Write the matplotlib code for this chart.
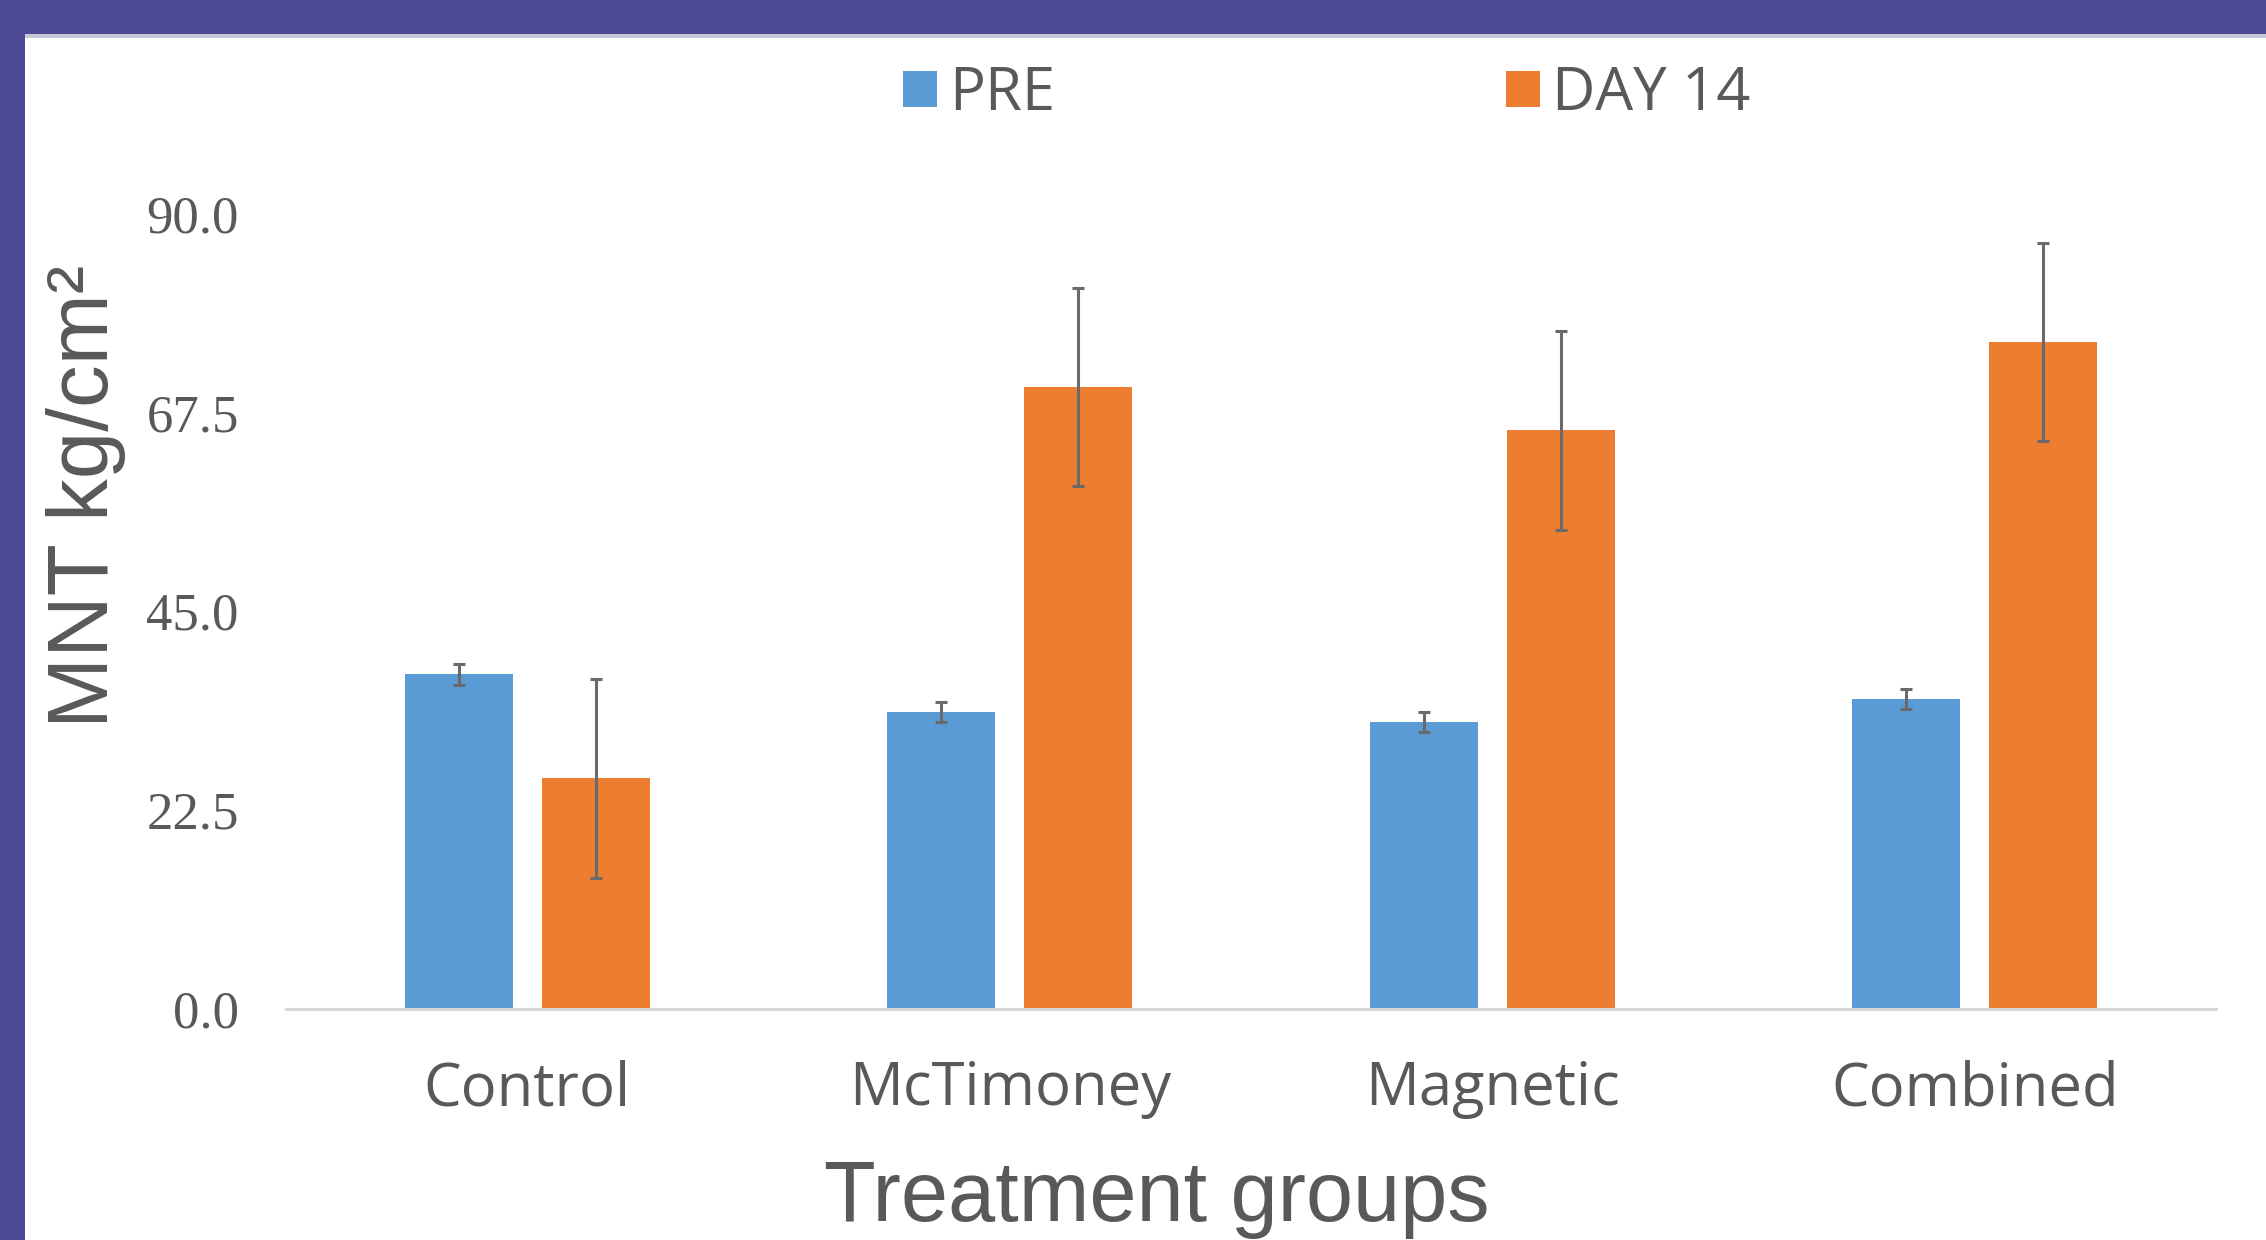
import numpy as np
import matplotlib
matplotlib.use('Agg')
import matplotlib.pyplot as plt
from matplotlib.patches import Rectangle, Patch

# data
groups = ['Control', 'McTimoney', 'Magnetic', 'Combined']
series = ['PRE', 'DAY 14']
pre = [37.9, 33.6, 32.5, 35.1]
pre_err = [1.2, 1.15, 1.15, 1.15]
day14 = [26.1, 70.4, 65.5, 75.5]
day14_err = [11.3, 11.2, 11.3, 11.25]
yticks = [0.0, 22.5, 45.0, 67.5, 90.0]

BLUE = '#5B9BD5'
ORANGE = '#ED7D31'
TEXT = '#595959'
FRAME = '#4E4A94'

W, H = 2266, 1240
fig = plt.figure(figsize=(W / 100, H / 100), dpi=100)
fig.patch.set_facecolor('white')

# purple frame (top and left bands)
fig.patches.append(Rectangle((0, 1 - 34 / H), 1, 34 / H, transform=fig.transFigure,
                             facecolor=FRAME, edgecolor='none', zorder=0))
fig.patches.append(Rectangle((0, 1 - 38 / H), 1, 4 / H, transform=fig.transFigure,
                             facecolor='#C9C8D8', edgecolor='none', zorder=0))
fig.patches.append(Rectangle((0, 0), 25 / W, 1, transform=fig.transFigure,
                             facecolor=FRAME, edgecolor='none', zorder=1))

ax = fig.add_axes([286 / W, 1 - 1009 / H, (2216 - 286) / W, (1009 - 214) / H])

x = np.arange(len(groups))
off = 0.142
bw = 0.224
err_kw = dict(ecolor='#6A6A6A', elinewidth=2.2, capsize=4, capthick=2.2)
ax.bar(x - off, pre, bw, color=BLUE, yerr=pre_err, error_kw=err_kw, label=series[0], zorder=2)
ax.bar(x + off, day14, bw, color=ORANGE, yerr=day14_err, error_kw=err_kw, label=series[1], zorder=2)

ax.set_xlim(-0.5, len(groups) - 0.5)
ax.set_ylim(0, 90)
ax.set_yticks(yticks)
ax.set_yticklabels(['%.1f' % v for v in yticks], fontfamily='Liberation Serif',
                   fontsize=38, color=TEXT)
ax.set_xticks(x)
ax.set_xticklabels(groups, fontfamily='Open Sans', fontsize=43, color=TEXT)
ax.tick_params(axis='y', length=0, pad=34)
ax.tick_params(axis='x', length=0, pad=36)

for s in ['top', 'right', 'left']:
    ax.spines[s].set_visible(False)
ax.spines['bottom'].set_color('#D9D9D9')
ax.spines['bottom'].set_linewidth(2.2)

# axis titles
fig.text(86 / W, 1 - 496 / H, 'MNT kg/cm²', rotation=90, ha='center', va='center',
         fontfamily='Liberation Sans', fontsize=61.5, color=TEXT)
fig.text(1157 / W, 1 - 1221 / H, 'Treatment groups', ha='center', va='baseline',
         fontfamily='Liberation Sans', fontsize=61, color=TEXT)

handles = [Patch(facecolor=BLUE), Patch(facecolor=ORANGE)]
fig.legend(handles, series, loc='center', bbox_to_anchor=(1327 / W, 1 - 94 / H), ncol=2,
           frameon=False, prop={'family': 'Open Sans', 'size': 43}, labelcolor=TEXT,
           handlelength=0.57, handleheight=0.57, handletextpad=0.2, columnspacing=7.55)

fig.savefig('out.png', dpi=100)
